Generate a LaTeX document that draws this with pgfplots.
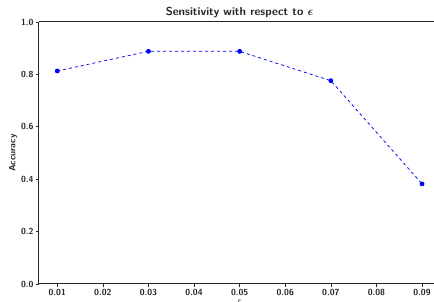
\documentclass[border=0pt]{standalone}
\usepackage{pgfplots}
\usepackage{bm}
\pgfplotsset{compat=1.18}
\begin{document}
\begin{tikzpicture}
\begin{axis}[
  at={(0,0)}, anchor=south west,
  scale only axis,
  width=401.3pt, height=262pt,
  xmin=0.006, xmax=0.094,
  ymin=0, ymax=1,
  axis y line*=left,
  axis x line*=box,
  axis line style={black!85, line width=1pt},
  xtick={0.01,0.02,...,0.09},
  xticklabels={0.01,0.02,0.03,0.04,0.05,0.06,0.07,0.08,0.09},
  ytick={0,0.2,0.4,0.6,0.8,1.0},
  yticklabels={0.0,0.2,0.4,0.6,0.8,1.0},
  xtick pos=bottom, ytick pos=left,
  tick align=outside,
  major tick length=3pt,
  tick style={black!85, line width=0.6pt},
  /pgf/number format/assume math mode=true,
  tick label style={font=\fontsize{8.8}{9}\selectfont\sffamily\bfseries, text=black!85},
  xticklabel style={yshift=1.5pt},
  yticklabel style={xshift=1pt},
  xlabel={$\epsilon$},
  ylabel={\sffamily\bfseries Accuracy},
  label style={font=\fontsize{9}{9}\selectfont, text=black!85},
  xlabel style={yshift=2.5pt},
  ylabel style={yshift=-3pt},
  title={\sffamily\bfseries Sensitivity with respect to $\bm{\epsilon}$},
  title style={font=\fontsize{11.5}{12}\selectfont, text=black!85, yshift=-5.5pt},
]
\addplot[blue, dashed, line width=0.75pt, mark=*, mark size=2pt, mark options={solid, fill=blue}]
  coordinates {(0.01,0.813) (0.03,0.888) (0.05,0.888) (0.07,0.776) (0.09,0.382)};
\end{axis}
\pgfresetboundingbox
\useasboundingbox (-39pt,-18pt) rectangle (395pt,284pt);
\end{tikzpicture}
\end{document}
